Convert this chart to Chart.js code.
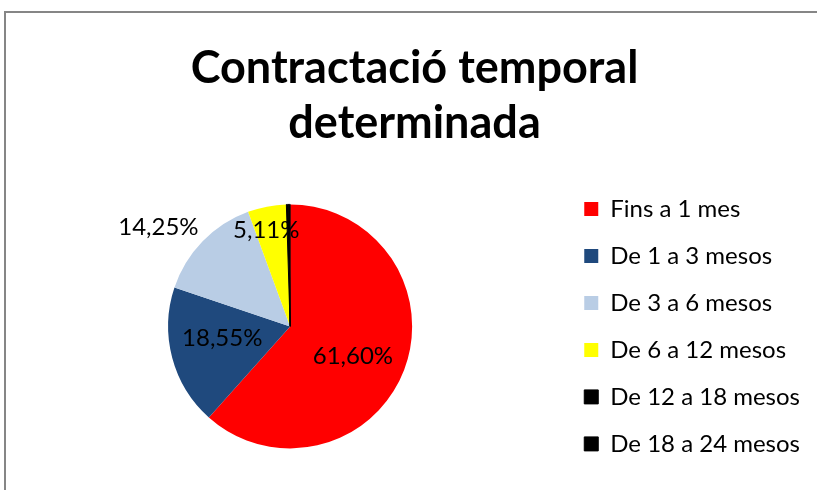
<!DOCTYPE html>
<html lang="ca">
<head>
    <meta charset="UTF-8">
    <title>Contractació temporal determinada</title>
    <script src="https://cdn.jsdelivr.net/npm/chart.js"></script>
    <style>
        body {
            margin: 0;
            background-color: #ffffff;
            font-family: Lato, Arial, sans-serif;
        }
        .frame {
            position: absolute;
            left: 4px;
            top: 11px;
            width: 900px;
            height: 600px;
            border: 2px solid #868686;
        }
        .chart-container {
            position: absolute;
            left: 0;
            top: 0;
            width: 817px;
            height: 490px;
        }
    </style>
</head>
<body>
    <div class="frame"></div>
    <div class="chart-container">
        <canvas id="pieChart" width="817" height="490"></canvas>
    </div>
    <script>
        const categories = ['Fins a 1 mes', 'De 1 a 3 mesos', 'De 3 a 6 mesos', 'De 6 a 12 mesos', 'De 12 a 18 mesos', 'De 18 a 24 mesos'];
        const percentages = [61.60, 18.55, 14.25, 5.11, 0.32, 0.17];
        const valueLabels = ['61,60%', '18,55%', '14,25%', '5,11%', '', ''];
        const sliceColors = ['#ff0000', '#1f497d', '#b9cde5', '#ffff00', '#000000', '#000000'];

        // where each value label sits: radius factor and angle shift (degrees)
        const labelPlacement = [
            { r: 0.57, da: 4.6 },
            { r: 0.565, da: 4.8 },
            { r: 1.35, da: -7.3 },
            { r: 0.81, da: -3 },
            { r: 0, da: 0 },
            { r: 0, da: 0 }
        ];

        const valueLabelPlugin = {
            id: 'valueLabels',
            afterDatasetsDraw(chart) {
                const ctx = chart.ctx;
                const arcs = chart.getDatasetMeta(0).data;
                ctx.save();
                ctx.font = '24px Lato';
                ctx.fillStyle = '#000000';
                ctx.textAlign = 'center';
                ctx.textBaseline = 'middle';
                arcs.forEach((arc, i) => {
                    if (!valueLabels[i]) return;
                    const p = labelPlacement[i];
                    const mid = (arc.startAngle + arc.endAngle) / 2 + p.da * Math.PI / 180;
                    const r = arc.outerRadius * p.r;
                    ctx.fillText(valueLabels[i], arc.x + Math.cos(mid) * r, arc.y + Math.sin(mid) * r);
                });
                ctx.restore();
            }
        };

        const ctx = document.getElementById('pieChart').getContext('2d');
        const pieChart = new Chart(ctx, {
            type: 'pie',
            data: {
                labels: categories,
                datasets: [{
                    data: percentages,
                    backgroundColor: sliceColors,
                    borderColor: sliceColors,
                    borderWidth: [0, 0, 0, 0, 1, 1]
                }]
            },
            options: {
                responsive: false,
                animation: false,
                radius: 122,
                layout: { padding: { left: 19, right: 7, top: 0, bottom: 8 } },
                plugins: {
                    title: {
                        display: true,
                        text: ['Contractació temporal', 'determinada'],
                        color: '#000000',
                        font: { family: 'Lato', size: 45, weight: 'bold', lineHeight: 1.22 },
                        padding: { top: 41, bottom: 20 }
                    },
                    legend: {
                        position: 'right',
                        fullSize: false,
                        labels: {
                            color: '#000000',
                            font: { family: 'Lato', size: 24 },
                            boxWidth: 14,
                            boxHeight: 14,
                            padding: 23
                        }
                    },
                    tooltip: { enabled: false }
                }
            },
            plugins: [valueLabelPlugin]
        });
    </script>
</body>
</html>
